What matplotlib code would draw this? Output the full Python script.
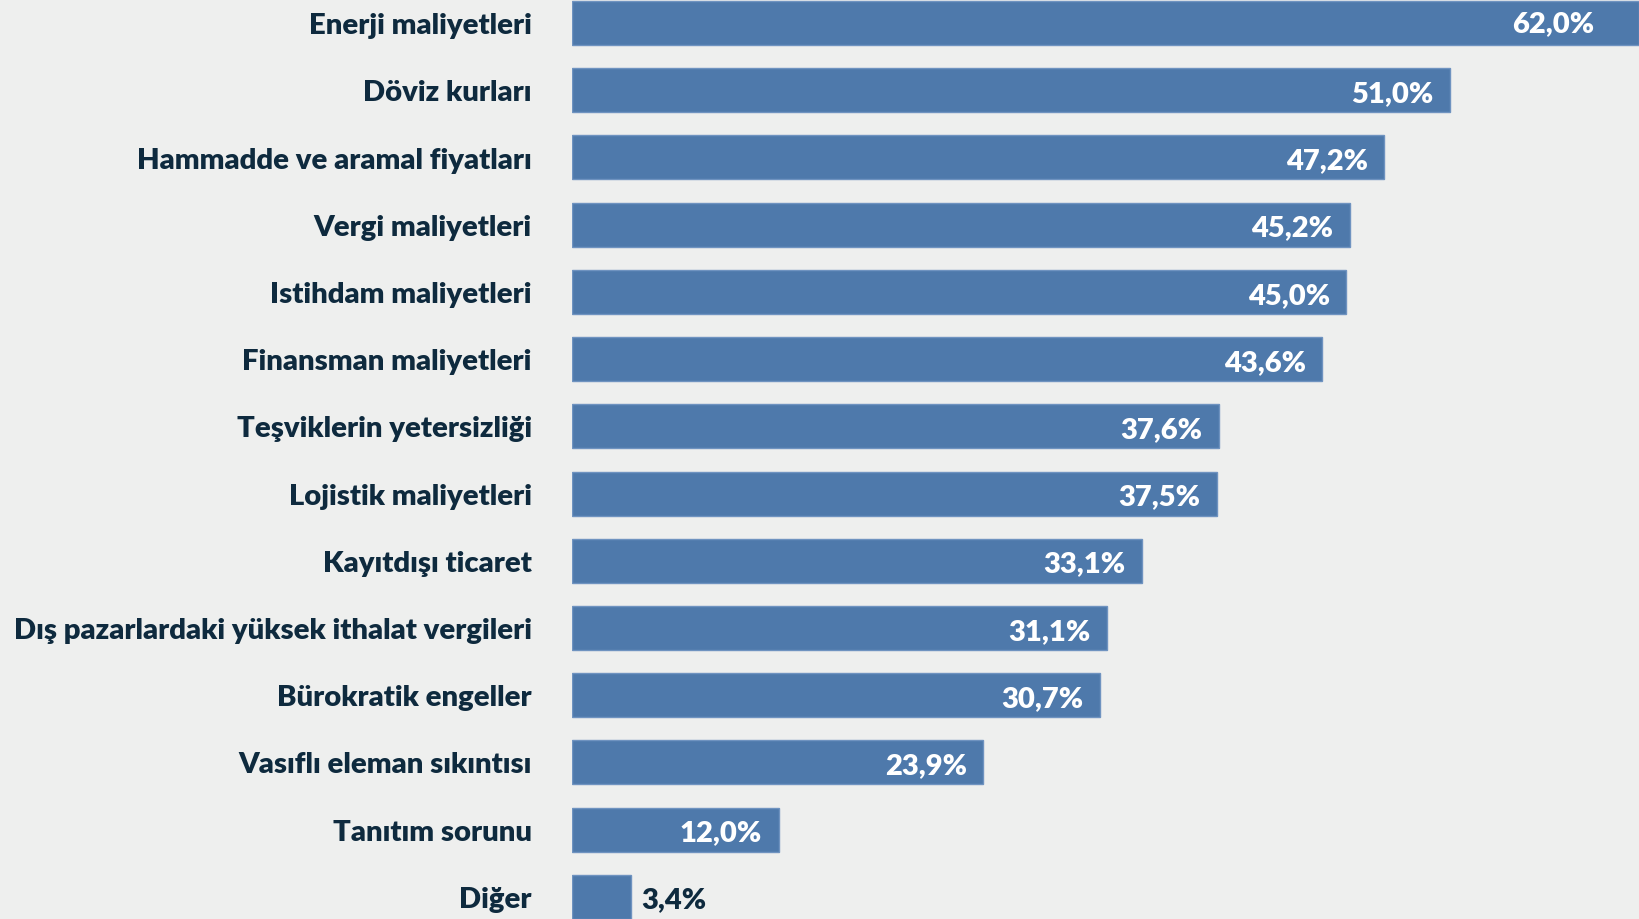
import matplotlib.pyplot as plt

plt.rcParams['font.family'] = ['Lato', 'DejaVu Sans']

categories = ["Enerji maliyetleri", "Döviz kurları", "Hammadde ve aramal fiyatları",
              "Vergi maliyetleri", "Istihdam maliyetleri", "Finansman maliyetleri",
              "Teşviklerin yetersizliği", "Lojistik maliyetleri", "Kayıtdışı ticaret",
              "Dış pazarlardaki yüksek ithalat vergileri", "Bürokratik engeller",
              "Vasıflı eleman sıkıntısı", "Tanıtım sorunu", "Diğer"]
values = [62.0, 51.0, 47.2, 45.2, 45.0, 43.6, 37.6, 37.5, 33.1, 31.1, 30.7, 23.9, 12.0, 3.4]
value_labels = ["62,0%", "51,0%", "47,2%", "45,2%", "45,0%", "43,6%", "37,6%", "37,5%",
                "33,1%", "31,1%", "30,7%", "23,9%", "12,0%", "3,4%"]

bg = "#eeefee"
bar_color = "#4e79ab"
text_color = "#0e2a3e"

fig = plt.figure(figsize=(16.39, 9.2), dpi=100, facecolor=bg)
ax = fig.add_axes([572 / 1639, 0, 1 - 572 / 1639, 1])
ax.set_facecolor(bg)

pos = list(range(len(categories)))
ax.barh(pos, values, height=0.655, color=bar_color, edgecolor="#6f93c0", linewidth=1)
ax.set_xlim(0, 62)
ax.set_ylim(13.33, -0.357)

for i, (v, lab) in enumerate(zip(values, value_labels)):
    if v < 8:
        ax.annotate(lab, (v, i), xytext=(8, -2), textcoords="offset points",
                    ha="left", va="center", fontsize=21, fontweight="heavy", color=text_color)
    else:
        off = -32 if v == max(values) else -12
        ax.annotate(lab, (v, i), xytext=(off, -2 if i else 0), textcoords="offset points",
                    ha="right", va="center", fontsize=21, fontweight="heavy", color="white")

for i, c in enumerate(categories):
    ax.annotate(c, (0, i), xytext=(-29, -1.5), textcoords="offset points",
                ha="right", va="center", fontsize=21.1, fontweight="heavy", color=text_color)

for s in ax.spines.values():
    s.set_visible(False)
ax.set_xticks([])
ax.set_yticks([])

fig.savefig("out.png", dpi=100, facecolor=bg)
